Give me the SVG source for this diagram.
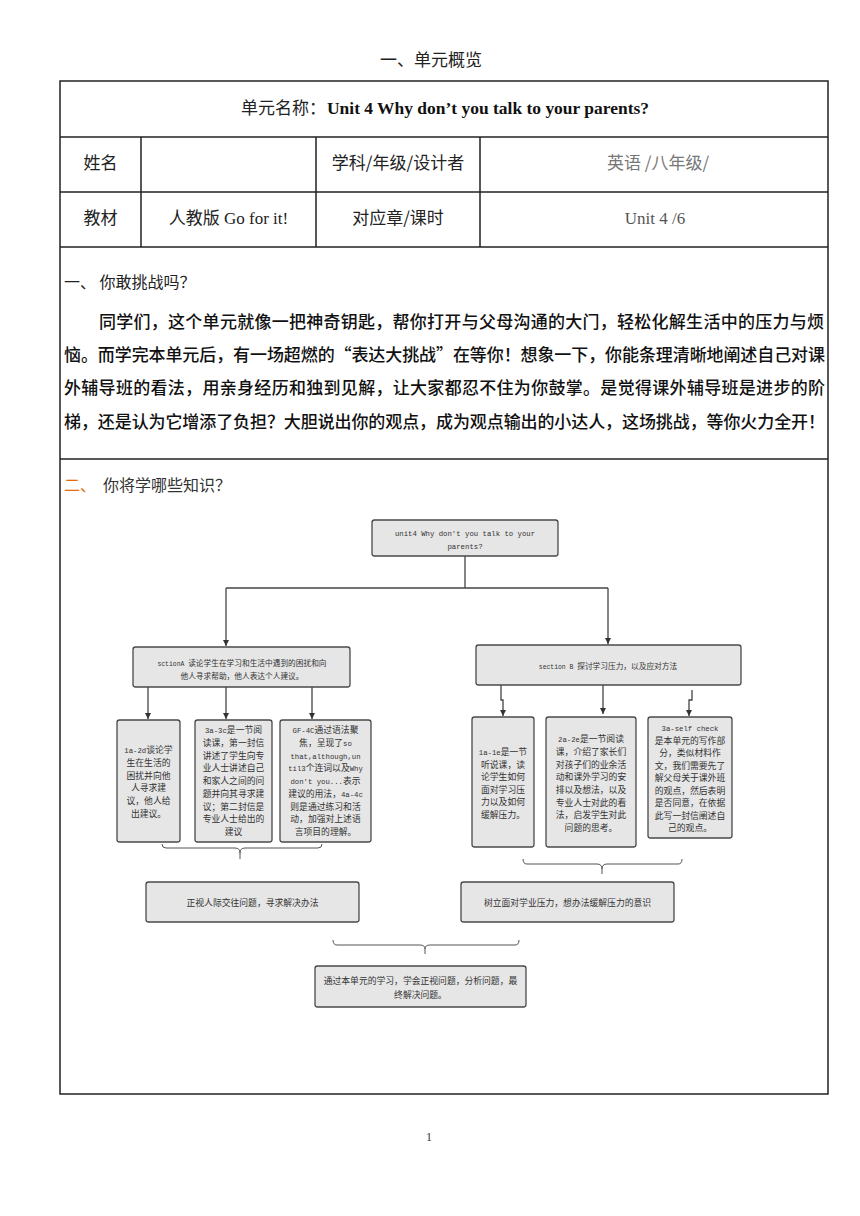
<svg xmlns="http://www.w3.org/2000/svg" width="860" height="1216" viewBox="0 0 860 1216">
<style>
.cj{font-family:"Noto Sans CJK SC","Liberation Serif",sans-serif;fill:#222}
.t17{font-size:17px}
.t16{font-size:16px}
.en{font-family:"Liberation Serif","Noto Sans CJK SC",serif}
.p{font-family:"Noto Sans CJK SC",sans-serif;font-size:17px;font-weight:500;fill:#111}
.box{fill:#e6e6e6;stroke:#4a4a4a;stroke-width:1.3}
.d{font-family:"Noto Sans CJK SC",sans-serif;font-size:8.8px;fill:#333;text-anchor:middle}
.ds{font-family:"Noto Sans CJK SC",sans-serif;font-size:7.7px;fill:#333;text-anchor:middle}
.m{font-family:"Liberation Mono",monospace;font-size:7.3px}
.ms{font-family:"Liberation Mono",monospace;font-size:6.4px}
.con{fill:none;stroke:#444;stroke-width:1.3}
.br{fill:none;stroke:#555;stroke-width:1}
.grid{stroke:#222;stroke-width:1.5;fill:none}
</style>
<defs>
<marker id="ah" viewBox="0 0 10 10" refX="10" refY="5" markerWidth="6" markerHeight="6" markerUnits="userSpaceOnUse" orient="auto">
<path d="M0,0 L10,5 L0,10 z" fill="#333"/>
</marker>
</defs>
<rect width="860" height="1216" fill="#fff"/>

<text class="cj t17" x="431" y="66" text-anchor="middle">一、单元概览</text>

<g id="table">
<rect class="grid" x="60" y="81" width="768" height="1013"/>
<path class="grid" d="M60,137 H828 M60,192 H828 M60,247 H828 M60,459 H828 M141,137 V247 M316,137 V247 M480,137 V247"/>
<text class="cj t17" x="241" y="114">单元名称：</text>
<text class="en" x="327" y="114" font-size="17" font-weight="bold" fill="#111" textLength="322" lengthAdjust="spacingAndGlyphs">Unit 4 Why don’t you talk to your parents?</text>
<text class="cj t17" x="100.5" y="169" text-anchor="middle">姓名</text>
<text class="cj t17" x="398" y="169" text-anchor="middle">学科/年级/设计者</text>
<text class="cj t17" x="658" y="169" text-anchor="middle" style="fill:#777">英语 /八年级/</text>
<text class="cj t17" x="100.5" y="224" text-anchor="middle">教材</text>
<text class="cj t17" x="228.5" y="224" text-anchor="middle">人教版<tspan class="en"> Go for it!</tspan></text>
<text class="cj t17" x="398" y="224" text-anchor="middle">对应章/课时</text>
<text class="en" x="655" y="224" font-size="17" text-anchor="middle" fill="#555">Unit 4 /6</text>
</g>

<g id="section1">
<text class="cj t16" x="64" y="288">一、 你敢挑战吗？</text>
<text class="p" x="99" y="328" textLength="725" lengthAdjust="spacing">同学们，这个单元就像一把神奇钥匙，帮你打开与父母沟通的大门，轻松化解生活中的压力与烦</text>
<text class="p" x="64" y="361" textLength="761" lengthAdjust="spacing">恼。而学完本单元后，有一场超燃的“表达大挑战”在等你！想象一下，你能条理清晰地阐述自己对课</text>
<text class="p" x="64" y="394" textLength="761" lengthAdjust="spacing">外辅导班的看法，用亲身经历和独到见解，让大家都忍不住为你鼓掌。是觉得课外辅导班是进步的阶</text>
<text class="p" x="64" y="428" textLength="761" lengthAdjust="spacing">梯，还是认为它增添了负担？大胆说出你的观点，成为观点输出的小达人，这场挑战，等你火力全开！</text>
</g>

<g id="section2">
<text class="cj t16" x="64" y="491" style="fill:#e46c0a">二、</text>
<text class="cj t16" x="103" y="491" style="fill:#333">你将学哪些知识？</text>
</g>

<g id="connectors">
<path class="con" d="M465,556 V588 M226,588 H608"/>
<path class="con" d="M226,588 V646" marker-end="url(#ah)"/>
<path class="con" d="M608,588 V644" marker-end="url(#ah)"/>
<path class="con" d="M148,687 V719" marker-end="url(#ah)"/>
<path class="con" d="M226,687 V719" marker-end="url(#ah)"/>
<path class="con" d="M312,685 V719" marker-end="url(#ah)"/>
<path class="con" d="M501,685 V700 H503 V716" marker-end="url(#ah)"/>
<path class="con" d="M603,685 V714" marker-end="url(#ah)"/>
<path class="con" d="M692,690 V700 H689 V716" marker-end="url(#ah)"/>
<path class="br" d="M162,844 Q162,848 166,848 H235 Q240,848 240,853 V859 M240,853 Q240,848 245,848 H318 Q322,848 322,844"/>
<path class="br" d="M523,859 Q523,864 527,864 H597 Q602,864 602,869 V874 M602,869 Q602,864 607,864 H678 Q682,864 682,859"/>
<path class="br" d="M333,940 Q333,945 337,945 H420 Q425,945 425,949 V954 M425,949 Q425,945 430,945 H515 Q519,945 519,940"/>
</g>

<g id="node-unit">
<rect class="box" x="372" y="520" width="186" height="36" rx="2.5"/>
<text class="d" x="465" y="536"><tspan class="m">unit4 Why don't you talk to your</tspan></text>
<text class="d" x="465" y="549"><tspan class="m">parents?</tspan></text>
</g>

<g id="node-sectionA">
<rect class="box" x="133" y="647" width="217" height="40" rx="2.5"/>
<text class="ds" x="242" y="666"><tspan class="ms">sctionA </tspan>读论学生在学习和生活中遇到的困扰和向</text>
<text class="ds" x="242" y="679">他人寻求帮助，他人表达个人建议。</text>
</g>

<g id="node-sectionB">
<rect class="box" x="476" y="645" width="265" height="40" rx="2.5"/>
<text class="ds" x="608" y="669"><tspan class="ms">section B </tspan>探讨学习压力，以及应对方法</text>
</g>

<g id="node-a1">
<rect class="box" x="117" y="720" width="63" height="122" rx="2.5"/>
<text class="d" x="148.5" y="753"><tspan class="m">1a-2d</tspan>谈论学</text>
<text class="d" x="148.5" y="766">生在生活的</text>
<text class="d" x="148.5" y="779">困扰并向他</text>
<text class="d" x="148.5" y="791">人寻求建</text>
<text class="d" x="148.5" y="804">议，他人给</text>
<text class="d" x="148.5" y="817">出建议。</text>
</g>

<g id="node-a2">
<rect class="box" x="195" y="720" width="77" height="122" rx="2.5"/>
<text class="d" x="233.5" y="733"><tspan class="m">3a-3c</tspan>是一节阅</text>
<text class="d" x="233.5" y="746">读课，第一封信</text>
<text class="d" x="233.5" y="758.5">讲述了学生向专</text>
<text class="d" x="233.5" y="771">业人士讲述自己</text>
<text class="d" x="233.5" y="784">和家人之间的问</text>
<text class="d" x="233.5" y="797">题并向其寻求建</text>
<text class="d" x="233.5" y="810">议；第二封信是</text>
<text class="d" x="233.5" y="822">专业人士给出的</text>
<text class="d" x="233.5" y="835">建议</text>
</g>

<g id="node-a3">
<rect class="box" x="280" y="720" width="91" height="122" rx="2.5"/>
<text class="d" x="325.5" y="733"><tspan class="m">GF-4C</tspan>通过语法聚</text>
<text class="d" x="325.5" y="746">焦，呈现了<tspan class="m">so</tspan></text>
<text class="d" x="325.5" y="758.5"><tspan class="m">that,although,un</tspan></text>
<text class="d" x="325.5" y="771"><tspan class="m">til3</tspan>个连词以及<tspan class="m">Why</tspan></text>
<text class="d" x="325.5" y="784"><tspan class="m">don't you...</tspan>表示</text>
<text class="d" x="325.5" y="797">建议的用法，<tspan class="m">4a-4c</tspan></text>
<text class="d" x="325.5" y="810">则是通过练习和活</text>
<text class="d" x="325.5" y="822">动，加强对上述语</text>
<text class="d" x="325.5" y="835">言项目的理解。</text>
</g>

<g id="node-b1">
<rect class="box" x="472" y="717" width="62" height="130" rx="2.5"/>
<text class="d" x="503" y="755"><tspan class="m">1a-1e</tspan>是一节</text>
<text class="d" x="503" y="768">听说课，读</text>
<text class="d" x="503" y="780">论学生如何</text>
<text class="d" x="503" y="793">面对学习压</text>
<text class="d" x="503" y="805">力以及如何</text>
<text class="d" x="503" y="818">缓解压力。</text>
</g>

<g id="node-b2">
<rect class="box" x="546" y="717" width="90" height="130" rx="2.5"/>
<text class="d" x="591" y="742"><tspan class="m">2a-2e</tspan>是一节阅读</text>
<text class="d" x="591" y="755">课，介绍了家长们</text>
<text class="d" x="591" y="768">对孩子们的业余活</text>
<text class="d" x="591" y="780">动和课外学习的安</text>
<text class="d" x="591" y="793">排以及想法，以及</text>
<text class="d" x="591" y="806">专业人士对此的看</text>
<text class="d" x="591" y="818">法，启发学生对此</text>
<text class="d" x="591" y="831">问题的思考。</text>
</g>

<g id="node-b3">
<rect class="box" x="648" y="717" width="84" height="121" rx="2.5"/>
<text class="d" x="690" y="731"><tspan class="m">3a-self check</tspan></text>
<text class="d" x="690" y="743.5">是本单元的写作部</text>
<text class="d" x="690" y="756">分，类似材料作</text>
<text class="d" x="690" y="768.5">文，我们需要先了</text>
<text class="d" x="690" y="781">解父母关于课外班</text>
<text class="d" x="690" y="793.5">的观点，然后表明</text>
<text class="d" x="690" y="806">是否同意，在依据</text>
<text class="d" x="690" y="818.5">此写一封信阐述自</text>
<text class="d" x="690" y="831">己的观点。</text>
</g>

<g id="node-goalA">
<rect class="box" x="146" y="882" width="213" height="40" rx="2.5"/>
<text class="d" x="252.5" y="906">正视人际交往问题，寻求解决办法</text>
</g>

<g id="node-goalB">
<rect class="box" x="461" y="882" width="213" height="40" rx="2.5"/>
<text class="d" x="567.5" y="906">树立面对学业压力，想办法缓解压力的意识</text>
</g>

<g id="node-final">
<rect class="box" x="315" y="966" width="211" height="41" rx="2.5"/>
<text class="d" x="420.5" y="984">通过本单元的学习，学会正视问题，分析问题，最</text>
<text class="d" x="420.5" y="998">终解决问题。</text>
</g>

<text class="en" x="429" y="1141" font-size="12" text-anchor="middle" fill="#333">1</text>
</svg>
